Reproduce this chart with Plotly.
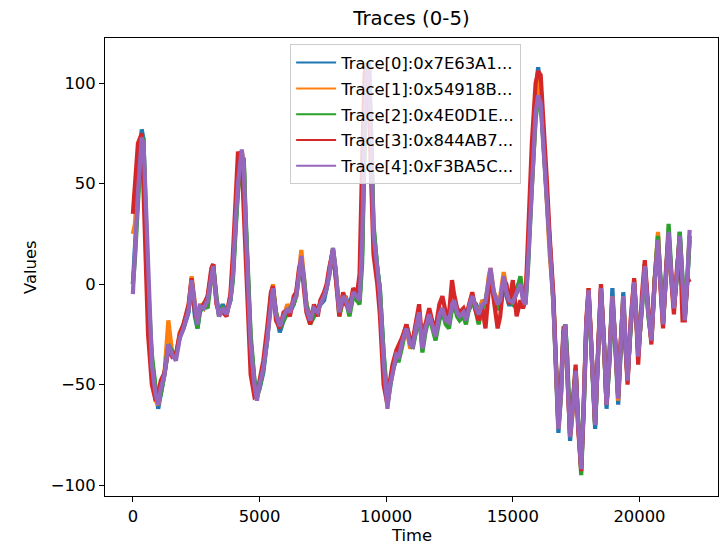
import plotly.graph_objects as go

time = [0,80,200,350,420,500,600,750,900,1000,
        1100,1250,1400,1550,1700,1850,2000,2200,2320,2450,
        2550,2650,2800,2950,3100,3170,3300,3400,3550,3700,
        3850,3950,4050,4150,4300,4380,4450,4550,4650,4800,
        4900,5000,5150,5300,5450,5530,5650,5800,5950,6100,
        6200,6350,6450,6560,6650,6750,6850,7000,7150,7300,
        7400,7550,7650,7750,7900,8000,8150,8300,8400,8550,
        8700,8850,8950,9050,9150,9250,9320,9400,9500,9650,
        9750,9900,10050,10150,10250,10400,10500,10650,10800,10950,
        11050,11200,11300,11430,11550,11700,11850,11950,12100,12220,
        12350,12480,12600,12680,12800,12900,13050,13150,13300,13400,
        13550,13650,13800,13920,14050,14120,14250,14400,14500,14640,
        14750,14850,15000,15150,15300,15400,15500,15600,15750,15900,
        16000,16100,16200,16350,16450,16600,16700,16800,16900,17000,
        17070,17150,17260,17380,17480,17580,17700,17800,17900,17990,
        18100,18250,18380,18480,18600,18700,18820,18930,19050,19160,
        19260,19360,19450,19530,19650,19790,19870,19950,20100,20210,
        20350,20470,20600,20730,20830,20930,21050,21150,21250,21360,
        21480,21590,21700,21790,21900,21980]

trace0 = [0,15,45,77,72,35,-5,-38,-55,-62,
          -55,-45,-32,-34,-36,-26,-22,-14,2,-16,
          -22,-12,-10,-8,6,10,-8,-15,-10,-14,
          -8,4,28,48,64,60,32,2,-28,-48,
          -55,-52,-44,-28,-6,-2,-14,-24,-18,-12,
          -14,-10,-4,4,12,2,-10,-16,-14,-12,
          -10,-8,-2,4,16,6,-12,-8,-6,-12,
          -4,-8,-8,15,75,108,110,75,28,8,
          -2,-35,-60,-52,-44,-36,-35,-28,-22,-30,
          -30,-22,-16,-30,-20,-16,-22,-25,-16,-14,
          -16,-20,-12,-10,-12,-18,-14,-16,-12,-8,
          -10,-14,-8,-10,0,6,-6,-12,-12,2,
          -6,-10,-10,-2,2,-6,-8,12,55,95,
          108,95,72,42,18,-8,-42,-74,-56,-24,
          -20,-38,-78,-58,-44,-68,-90,-62,-22,-4,
          -34,-72,-30,-2,-28,-62,-36,-2,-32,-60,
          -32,-4,-28,-46,-22,0,-14,-34,-10,8,
          -14,-26,2,24,2,-18,4,24,6,-10,
          4,26,2,-16,4,22]

trace1 = [25,30,50,72,68,30,-8,-42,-58,-60,
          -54,-44,-18,-34,-36,-24,-20,-12,4,-12,
          -20,-10,-12,-6,4,8,-8,-14,-12,-14,
          -6,6,30,52,66,60,30,0,-28,-50,
          -56,-50,-40,-26,-6,0,-14,-20,-16,-10,
          -12,-8,-6,6,17,4,-10,-18,-12,-13,
          -9,-5,-2,6,17,7,-12,-5,-7,-13,
          -3,-5,-6,18,78,108,106,72,26,6,
          -4,-40,-60,-50,-44,-34,-36,-26,-22,-32,
          -30,-18,-14,-30,-22,-14,-20,-26,-14,-12,
          -18,-18,-10,-6,-14,-16,-12,-18,-10,-6,
          -12,-15,-8,-10,4,8,-4,-8,-6,6,
          -2,-8,-8,-4,2,-6,-8,15,58,92,
          106,98,74,44,16,-8,-40,-72,-55,-26,
          -20,-40,-76,-62,-42,-70,-92,-60,-20,-2,
          -34,-70,-30,-2,-30,-60,-34,-6,-30,-58,
          -30,-6,-30,-48,-20,2,-14,-36,-10,10,
          -14,-28,2,26,0,-20,4,26,4,-12,
          6,24,0,-16,6,24]

trace2 = [0,12,40,72,72,40,0,-35,-52,-58,
          -55,-44,-30,-33,-36,-26,-20,-12,2,-14,
          -22,-14,-10,-12,6,10,-6,-16,-12,-14,
          -8,2,25,46,62,62,35,5,-25,-48,
          -56,-52,-42,-28,-6,-2,-14,-22,-18,-14,
          -12,-10,-6,4,12,4,-10,-20,-16,-13,
          -10,-6,-2,5,18,8,-16,-8,-8,-16,
          -6,-8,-10,10,70,105,108,78,30,8,
          -2,-34,-58,-50,-42,-38,-38,-30,-20,-28,
          -32,-22,-14,-34,-24,-16,-24,-28,-18,-14,
          -20,-22,-12,-10,-16,-18,-16,-20,-10,-8,
          -14,-20,-12,-8,0,4,-4,-12,-12,2,
          -4,-8,-10,-4,4,-6,-10,8,48,82,
          92,90,72,42,18,-8,-38,-70,-54,-24,
          -20,-36,-74,-58,-42,-68,-95,-62,-22,-4,
          -34,-70,-30,-4,-30,-60,-38,-8,-30,-56,
          -32,-8,-32,-46,-22,0,-16,-34,-12,10,
          -16,-28,2,24,2,-20,6,30,8,-12,
          4,26,2,-16,4,24]

trace3 = [35,50,70,75,45,5,-25,-50,-58,-55,
          -48,-44,-32,-36,-35,-25,-20,-10,3,-14,
          -18,-12,-10,-6,8,10,-10,-14,-14,-16,
          -5,15,45,66,60,35,5,-25,-45,-56,
          -55,-48,-38,-22,-4,-1,-18,-22,-14,-13,
          -16,-6,-4,8,12,-2,-14,-20,-10,-16,
          -8,-4,0,8,17,4,-16,-4,-10,-12,
          -2,-5,5,60,105,110,95,55,15,0,
          -15,-50,-60,-48,-40,-33,-30,-26,-20,-28,
          -28,-18,-10,-30,-20,-12,-20,-22,-10,-6,
          -14,-15,2,-5,-12,-14,-12,-16,-8,-4,
          -14,-18,-12,-22,-3,5,-8,-22,-16,2,
          0,-10,2,-16,-8,-12,-8,25,70,100,
          106,104,85,50,25,-5,-38,-70,-50,-22,
          -22,-42,-75,-58,-40,-72,-93,-58,-18,-2,
          -36,-70,-28,0,-30,-60,-33,-8,-30,-56,
          -28,-8,-32,-50,-18,3,-16,-40,-5,12,
          -12,-30,2,20,-2,-22,8,24,3,-15,
          8,22,-18,-18,3,1]

trace4 = [-5,20,45,73,70,45,5,-40,-55,-60,
          -52,-45,-30,-35,-38,-27,-22,-13,2,-12,
          -20,-11,-12,-8,5,9,-8,-16,-12,-15,
          -8,5,30,50,67,58,30,0,-30,-50,
          -58,-50,-42,-28,-8,-2,-15,-21,-16,-12,
          -14,-8,-6,5,14,2,-12,-18,-12,-14,
          -10,-6,-2,5,18,8,-14,-6,-8,-14,
          -4,-6,-8,20,80,110,108,75,25,8,
          -5,-38,-62,-50,-45,-35,-36,-28,-22,-30,
          -31,-20,-14,-32,-22,-15,-22,-26,-15,-12,
          -18,-19,-10,-8,-14,-16,-14,-18,-10,-6,
          -12,-15,-10,-9,2,8,-4,-10,-8,4,
          -4,-8,-9,-4,0,-8,-10,10,50,85,
          94,90,70,40,15,-10,-40,-72,-55,-25,
          -20,-40,-76,-60,-43,-70,-92,-60,-20,-3,
          -35,-70,-30,-2,-30,-60,-35,-6,-30,-57,
          -30,-6,-30,-48,-20,1,-15,-36,-10,9,
          -15,-28,0,22,0,-20,5,26,5,-12,
          5,24,0,-18,5,27]

names = ["Trace[0]:0x7E63A1...", "Trace[1]:0x54918B...", "Trace[2]:0x4E0D1E...",
         "Trace[3]:0x844AB7...", "Trace[4]:0xF3BA5C..."]
colors = ["#1f77b4", "#ff7f0e", "#2ca02c", "#d62728", "#9467bd"]
series = [trace0, trace1, trace2, trace3, trace4]

x_tickvals = [0, 5000, 10000, 15000, 20000]
x_ticktext = ["0", "5000", "10000", "15000", "20000"]
y_tickvals = [-100, -50, 0, 50, 100]
y_ticktext = ["\u2212100", "\u221250", "0", "50", "100"]

FONT = "DejaVu Sans"
FS = 16.4
fig = go.Figure()
for i, (nm, col, vals) in enumerate(zip(names, colors, series)):
    fig.add_trace(go.Scatter(x=time, y=vals, mode="lines", name=nm,
                             legendgroup=f"g{i}", showlegend=False,
                             line=dict(color=col, width=4.2)))
# legend entries (thin line samples, like the reference legend)
for i, (nm, col) in enumerate(zip(names, colors)):
    fig.add_trace(go.Scatter(x=[None], y=[None], mode="lines", name=nm,
                             legendgroup=f"g{i}", showlegend=True,
                             line=dict(color=col, width=2)))

axis_common = dict(showgrid=False, zeroline=False, showline=True, mirror=True,
                   linecolor="black", linewidth=1, ticks="outside", ticklen=5,
                   tickwidth=1, tickcolor="black", automargin=False,
                   tickfont=dict(family=FONT, size=FS, color="black"))

fig.update_layout(
    width=719, height=545,
    margin=dict(l=105, r=1, t=38, b=49, autoexpand=False),
    plot_bgcolor="white", paper_bgcolor="white",
    title=dict(text="Traces (0-5)", x=0.5, xref="paper", y=1 - 18 / 545,
               yref="container", yanchor="middle",
               font=dict(family=FONT, size=19.7, color="black")),
    xaxis=dict(range=[-1100, 23100], tickvals=x_tickvals, ticktext=x_ticktext, **axis_common),
    yaxis=dict(range=[-105.4, 122.5], tickvals=y_tickvals, ticktext=y_ticktext, **axis_common),
    legend=dict(x=0.302, y=0.986, xanchor="left", yanchor="top",
                bgcolor="rgba(255,255,255,0.8)", bordercolor="#cccccc", borderwidth=1,
                font=dict(family=FONT, size=FS, color="black"),
                tracegroupgap=1.5, itemwidth=40),
    showlegend=True,
    annotations=[
        dict(text="Time", x=0.5, xref="paper", y=-(536 - 496) / 458.5, yref="paper",
             showarrow=False, font=dict(family=FONT, size=FS, color="black"),
             yanchor="middle"),
        dict(text="Values", x=-(105 - 30) / 613, xref="paper", y=0.5, yref="paper",
             showarrow=False, textangle=-90, xanchor="center",
             font=dict(family=FONT, size=FS, color="black")),
    ],
)

fig.write_html("out.html", config={"displayModeBar": False},
               post_script="document.body.style.margin='0';document.body.style.overflow='hidden';")
